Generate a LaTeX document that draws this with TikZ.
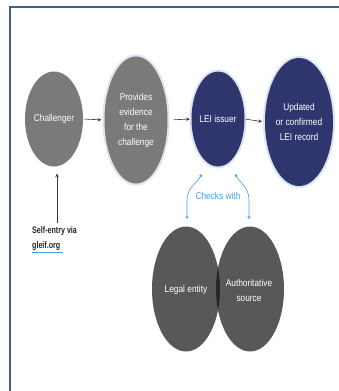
\documentclass[tikz,border=0pt]{standalone}
\usepackage{fontspec}
\newfontfamily\nar{Liberation Sans}[FakeStretch=0.85]
\newfontfamily\narb{Liberation Sans Bold}[FakeStretch=0.75]
\usetikzlibrary{shapes.geometric,arrows.meta}
\definecolor{framec}{RGB}{68,92,138}
\definecolor{grayc}{RGB}{122,122,122}
\definecolor{navyc}{RGB}{47,54,110}
\definecolor{venn}{RGB}{88,88,88}
\definecolor{venndark}{RGB}{38,38,38}
\definecolor{haloc}{RGB}{218,228,242}
\definecolor{bluec}{RGB}{70,160,225}
\definecolor{linec}{RGB}{55,55,55}
\tikzset{
  txt/.style={font=\nar\fontsize{9.8}{15}\selectfont, align=center},
  blob/.style={ellipse, inner sep=0pt, txt, text=white},
  halo/.style={preaction={draw=haloc, line width=4pt}},
  conn/.style={draw=linec, line width=0.6pt, -{Stealth[length=3.5pt,width=3.5pt]}},
  bconn/.style={draw=bluec, line width=0.6pt, {Stealth[length=3pt,width=3pt]}-{Stealth[length=3pt,width=3pt]}},
}
\begin{document}
\begin{tikzpicture}[x=1pt,y=-1pt]
\useasboundingbox[fill=white] (0,0) rectangle (339,391);
\draw[framec, line width=2.5pt] (10,391) -- (10,7) -- (339,7);
% top row
\node[blob, fill=grayc, minimum width=58pt, minimum height=95pt] (chal) at (54,119) {Challenger};
\node[blob, fill=grayc, halo, minimum width=63pt, minimum height=127pt] (prov) at (136,120) {Provides\\evidence\\for the\\challenge};
\node[blob, fill=navyc, halo, minimum width=53pt, minimum height=95pt] (lei) at (218,119) {LEI issuer};
\node[blob, fill=navyc, halo, minimum width=68pt, minimum height=128pt] (upd) at (299,122) {Updated\\or confirmed\\LEI record};
% venn
\node[blob, fill=venn, minimum width=68pt, minimum height=125pt] (legal) at (186,289) {};
\node[blob, fill=venn, minimum width=68pt, minimum height=125pt] (auth) at (250,289) {};
\begin{scope}
  \clip (186,289) ellipse [x radius=34pt, y radius=62.5pt];
  \fill[venndark] (250,289) ellipse [x radius=34pt, y radius=62.5pt];
\end{scope}
\node[txt, text=white] (legalt) at (186,290) {Legal entity};
\node[txt, text=white] (autht) at (249,290) {Authoritative\\source};
% arrows
\draw[conn, shorten <=1pt, shorten >=3pt] (chal.east) -- (prov.west);
\draw[conn, shorten <=6pt, shorten >=1.5pt] (prov.east) -- (lei.west);
\draw[conn, shorten <=1pt, shorten >=3pt] (lei.east) -- (upd.west);
% self entry
\node[txt, font=\narb\fontsize{9.5}{15}\selectfont, text=black!85, align=left, anchor=north west, inner sep=0pt] (self) at (32,226) {Self-entry via\\gleif.org};
\coordinate (selftop) at (57,223);
\draw[conn, shorten >=7pt] (selftop) -- (selftop |- chal.south);
\draw[bluec, line width=0.8pt] ([yshift=-2pt]self.south west) -- ++(31,0);
% checks with
\node[txt, text=bluec] (checks) at (218,196) {Checks with};
\coordinate (lt) at (202,174);
\coordinate (lb) at (187,219);
\coordinate (rt) at (235,174);
\coordinate (rb) at (249,219);
\draw[bconn] (lt) .. controls (196,184) and (187,188) .. (187,200) -- (lb);
\draw[bconn] (rt) .. controls (241,184) and (249,188) .. (249,200) -- (rb);
\end{tikzpicture}
\end{document}
